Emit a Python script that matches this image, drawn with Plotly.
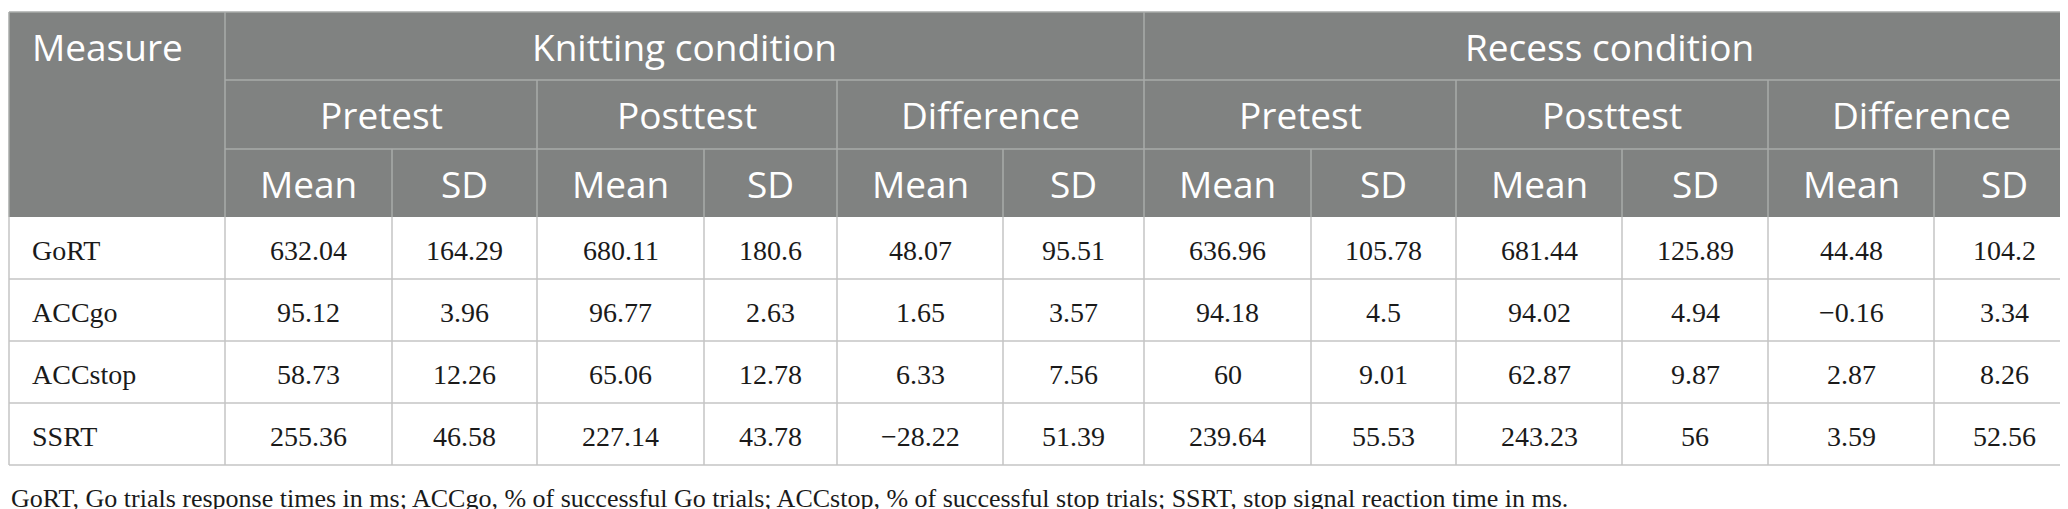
"""
Descriptive statistics table (knitting vs recess condition) drawn with Plotly shapes.
Two-level grouped header, four measures, footnote under the table.
"""
import plotly.graph_objects as go

# --- DATA ---
MEASURES = ["GoRT", "ACCgo", "ACCstop", "SSRT"]
CONDITIONS = ["Knitting condition", "Recess condition"]
PHASES = ["Pretest", "Posttest", "Difference"]
STATS = ["Mean", "SD"]

knitting_pre_mean = [632.04, 95.12, 58.73, 255.36]
knitting_pre_sd = [164.29, 3.96, 12.26, 46.58]
knitting_post_mean = [680.11, 96.77, 65.06, 227.14]
knitting_post_sd = [180.6, 2.63, 12.78, 43.78]
knitting_diff_mean = [48.07, 1.65, 6.33, -28.22]
knitting_diff_sd = [95.51, 3.57, 7.56, 51.39]

recess_pre_mean = [636.96, 94.18, 60, 239.64]
recess_pre_sd = [105.78, 4.5, 9.01, 55.53]
recess_post_mean = [681.44, 94.02, 62.87, 243.23]
recess_post_sd = [125.89, 4.94, 9.87, 56]
recess_diff_mean = [44.48, -0.16, 2.87, 3.59]
recess_diff_sd = [104.2, 3.34, 8.26, 52.56]

FOOTNOTE = ("GoRT, Go trials response times in ms; ACCgo, % of successful Go trials; "
            "ACCstop, % of successful stop trials; SSRT, stop signal reaction time in ms.")

# --- LAYOUT / STYLE ---
WIDTH, HEIGHT = 2068, 509
X0, Y0 = 1, 4
COL_WIDTHS = [216, 167, 145, 167, 133, 166, 141, 167, 145, 166, 146, 166, 141]
HEADER_HEIGHTS = [68, 69, 68]
BODY_HEIGHT = 62
FOOTNOTE_Y = 490

HEADER_BG = "#808281"
HEADER_LINE = "#a9abaa"
BODY_LINE = "#c4c4c4"
HEADER_FONT = dict(family="Open Sans", size=37, color="white")
BODY_FONT = dict(family="Liberation Serif", size=28, color="#1a1a1a")
NOTE_FONT = dict(family="Liberation Serif", size=26, color="#1a1a1a")
PAD = 21


def fmt(v):
    return f"{v:g}".replace("-", "\u2212")


def line(fig, x0, y0, x1, y1, color):
    fig.add_shape(type="line", x0=x0, y0=y0, x1=x1, y1=y1,
                  line=dict(color=color, width=1.5), layer="above")


def text(fig, x, y, s, font, anchor="center"):
    fig.add_annotation(x=x, y=y, text=s, showarrow=False, xanchor=anchor,
                       yanchor="middle", font=font)


def build_table():
    columns = [
        knitting_pre_mean, knitting_pre_sd,
        knitting_post_mean, knitting_post_sd,
        knitting_diff_mean, knitting_diff_sd,
        recess_pre_mean, recess_pre_sd,
        recess_post_mean, recess_post_sd,
        recess_diff_mean, recess_diff_sd,
    ]

    # column / row edges from widths and heights
    xs = [X0]
    for w in COL_WIDTHS:
        xs.append(xs[-1] + w)
    hy = [Y0]
    for h in HEADER_HEIGHTS:
        hy.append(hy[-1] + h)
    by = [hy[-1]]
    for _ in MEASURES:
        by.append(by[-1] + BODY_HEIGHT)

    fig = go.Figure()

    # header background
    fig.add_shape(type="rect", x0=xs[0], x1=xs[-1], y0=hy[0], y1=hy[-1],
                  fillcolor=HEADER_BG, line=dict(width=0), layer="below")

    # header lines
    line(fig, xs[0], hy[0], xs[-1], hy[0], HEADER_LINE)
    line(fig, xs[1], hy[1], xs[-1], hy[1], HEADER_LINE)
    line(fig, xs[1], hy[2], xs[-1], hy[2], HEADER_LINE)
    line(fig, xs[0], hy[0], xs[0], hy[3], HEADER_LINE)
    line(fig, xs[-1], hy[0], xs[-1], hy[3], HEADER_LINE)
    n_stat = len(STATS)
    n_phase = len(PHASES)
    per_cond = n_stat * n_phase
    for c in range(len(CONDITIONS)):
        line(fig, xs[1 + c * per_cond], hy[0], xs[1 + c * per_cond], hy[3], HEADER_LINE)
        for p in range(1, n_phase):
            xi = xs[1 + c * per_cond + p * n_stat]
            line(fig, xi, hy[1], xi, hy[3], HEADER_LINE)
        for p in range(n_phase):
            xi = xs[1 + c * per_cond + p * n_stat + 1]
            line(fig, xi, hy[2], xi, hy[3], HEADER_LINE)

    # header text
    text(fig, xs[0] + PAD, (hy[0] + hy[1]) / 2, "Measure", HEADER_FONT, "left")
    for c, cond in enumerate(CONDITIONS):
        a = xs[1 + c * per_cond]
        b = xs[1 + (c + 1) * per_cond]
        text(fig, (a + b) / 2, (hy[0] + hy[1]) / 2, cond, HEADER_FONT)
        for p, phase in enumerate(PHASES):
            a = xs[1 + c * per_cond + p * n_stat]
            b = xs[1 + c * per_cond + (p + 1) * n_stat]
            text(fig, (a + b) / 2, (hy[1] + hy[2]) / 2, phase, HEADER_FONT)
            for s, stat in enumerate(STATS):
                k = 1 + c * per_cond + p * n_stat + s
                text(fig, (xs[k] + xs[k + 1]) / 2, (hy[2] + hy[3]) / 2, stat, HEADER_FONT)

    # body lines
    for yi in by[1:]:
        line(fig, xs[0], yi, xs[-1], yi, BODY_LINE)
    for xi in xs:
        line(fig, xi, by[0], xi, by[-1], BODY_LINE)

    # body text
    for r, name in enumerate(MEASURES):
        yc = (by[r] + by[r + 1]) / 2 + 2
        text(fig, xs[0] + PAD, yc, name, BODY_FONT, "left")
        for k, col in enumerate(columns):
            text(fig, (xs[k + 1] + xs[k + 2]) / 2, yc, fmt(col[r]), BODY_FONT)

    # footnote
    fig.add_annotation(x=X0, y=FOOTNOTE_Y, text=FOOTNOTE, showarrow=False,
                       xanchor="left", yanchor="middle", font=NOTE_FONT)

    fig.update_layout(
        width=WIDTH, height=HEIGHT,
        margin=dict(l=0, r=0, t=0, b=0),
        paper_bgcolor="white", plot_bgcolor="white",
        showlegend=False,
    )
    fig.update_xaxes(range=[0, WIDTH], visible=False, fixedrange=True)
    fig.update_yaxes(range=[HEIGHT, 0], visible=False, fixedrange=True)
    return fig


def main():
    fig = build_table()
    fig.write_html("out.html")


if __name__ == "__main__":
    main()
